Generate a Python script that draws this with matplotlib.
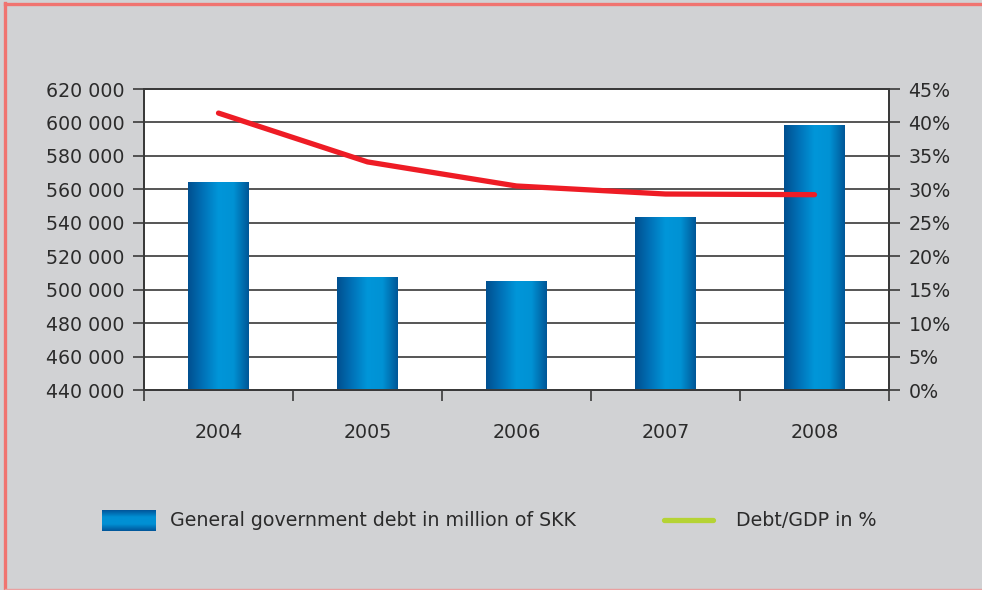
import numpy as np
import matplotlib
matplotlib.use("Agg")
import matplotlib.pyplot as plt
from matplotlib.colors import LinearSegmentedColormap
from matplotlib.lines import Line2D
from matplotlib.ticker import FuncFormatter, FixedLocator

# General government debt of Slovakia
years = ["2004", "2005", "2006", "2007", "2008"]
debt_mskk = [564000, 507000, 505000, 543000, 598000]
debt_gdp_pct = [41.4, 34.1, 30.5, 29.3, 29.2]

debt_label = "General government debt in million of SKK"
ratio_label = "Debt/GDP in %"

BG = "#d1d2d4"
FRAME = "#f07470"
TXT = "#2b2b2b"
AX = "#3a3a3a"
RED = "#ee1c25"
GREEN = "#b5d334"
FS = 13.7

blue_grad = LinearSegmentedColormap.from_list(
    "bar_blue", ["#004f8f", "#0072b8", "#0096d9", "#0092d4", "#005697"])

plt.rcParams["font.family"] = ["DejaVu Sans"]

W, H = 982, 590
fig = plt.figure(figsize=(W / 100, H / 100), dpi=100, facecolor=BG)

# frame in figure pixels: left, top, bottom edges
fig.add_artist(Line2D([5 / W, 5 / W], [0, 1 - 3 / H], transform=fig.transFigure,
                      color=FRAME, lw=2.4))
fig.add_artist(Line2D([5 / W, 1], [1 - 3.5 / H, 1 - 3.5 / H], transform=fig.transFigure,
                      color=FRAME, lw=2.4))
fig.add_artist(Line2D([5 / W, 1], [1 / H, 1 / H], transform=fig.transFigure,
                      color="#eaa0a0", lw=1.0))

L, R, T, B = 144, 889, 89, 390
ax = fig.add_axes([L / W, 1 - B / H, (R - L) / W, (B - T) / H])
ax.set_facecolor("white")

x = np.arange(len(years))

bar_w = 0.405
grad = np.linspace(0, 1, 256).reshape(1, -1)
for xi, v in zip(x, debt_mskk):
    ax.imshow(grad, cmap=blue_grad, aspect="auto", zorder=3,
              extent=(xi - bar_w / 2, xi + bar_w / 2, 440000, v))
ax.set_xlim(-0.5, len(years) - 0.5)
ax.set_ylim(440000, 620000)

ax.set_yticks(np.arange(440000, 620001, 20000))
ax.yaxis.set_major_formatter(FuncFormatter(lambda v, p: f"{int(v):,}".replace(",", " ")))
ax.grid(axis="y", color="#555555", lw=1.4, zorder=1)
ax.set_axisbelow(True)

ax.set_xticks(x)
ax.set_xticklabels(years)
ax.xaxis.set_minor_locator(FixedLocator(np.arange(-0.5, len(years), 1.0)))
ax.tick_params(axis="x", which="major", length=0, pad=24, labelsize=FS, labelcolor=TXT)
ax.tick_params(axis="x", which="minor", length=8, width=1.2, color=AX, direction="out")
ax.tick_params(axis="y", length=8, width=1.2, color=AX, pad=6, labelsize=FS, labelcolor=TXT)

for s in ax.spines.values():
    s.set_color(AX)
    s.set_linewidth(1.4)

ax2 = ax.twinx()
ax2.set_ylim(0, 45)
ax2.set_yticks(np.arange(0, 46, 5))
ax2.yaxis.set_major_formatter(FuncFormatter(lambda v, p: f"{int(v)}%"))
ax2.tick_params(axis="y", length=8, width=1.2, color=AX, pad=6, labelsize=FS, labelcolor=TXT)
for s in ax2.spines.values():
    s.set_color(AX)
    s.set_linewidth(1.4)
ax2.plot(x, debt_gdp_pct, color=RED, lw=3.8, solid_capstyle="round",
         solid_joinstyle="round", zorder=5)

# legend, laid out by hand
lax = fig.add_axes([102 / W, 1 - 531 / H, 54 / W, 21 / H])
lax.imshow(np.linspace(0, 1, 64).reshape(-1, 1), cmap=LinearSegmentedColormap.from_list(
    "leg_blue", ["#00559a", "#0090d4", "#0090d4", "#00559a"]), aspect="auto")
lax.axis("off")
fig.text(170 / W, 1 - 520 / H, debt_label, fontsize=FS, color=TXT, va="center")
fig.add_artist(Line2D([664 / W, 713 / W], [1 - 520 / H, 1 - 520 / H],
                      transform=fig.transFigure, color=GREEN, lw=3.8,
                      solid_capstyle="round"))
fig.text(736 / W, 1 - 520 / H, ratio_label, fontsize=FS, color=TXT, va="center")

fig.savefig("out.png", dpi=100, facecolor=BG)
